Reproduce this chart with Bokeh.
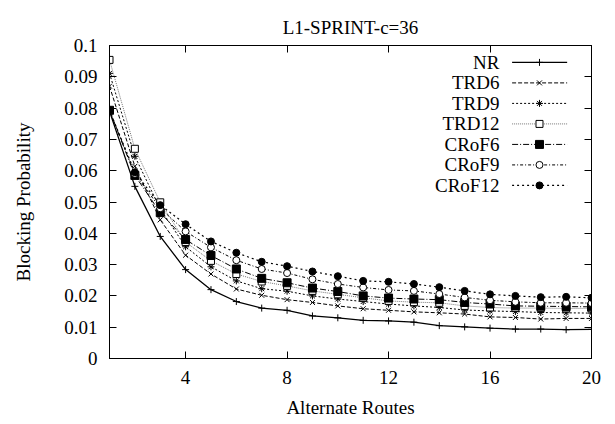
from bokeh.plotting import figure
from bokeh.models import LinearAxis, FixedTicker, Range1d, CustomJSTickFormatter
from bokeh.core.properties import value
from bokeh.embed import file_html
from bokeh.resources import INLINE

# ---- data ----
routes = list(range(1, 21))
NR = [0.0790, 0.0550, 0.0390, 0.0284, 0.0220, 0.0182, 0.0161, 0.0154, 0.0136, 0.0130,
      0.0122, 0.0120, 0.0116, 0.0105, 0.0101, 0.0097, 0.0094, 0.0094, 0.0092, 0.0093]
TRD6 = [0.0870, 0.0614, 0.0443, 0.0330, 0.0270, 0.0222, 0.0202, 0.0188, 0.0179, 0.0168,
        0.0159, 0.0154, 0.0149, 0.0146, 0.0142, 0.0133, 0.0131, 0.0126, 0.0128, 0.0128]
TRD9 = [0.0911, 0.0646, 0.0478, 0.0357, 0.0293, 0.0248, 0.0223, 0.0215, 0.0200, 0.0190,
        0.0182, 0.0174, 0.0168, 0.0163, 0.0155, 0.0152, 0.0150, 0.0147, 0.0146, 0.0145]
TRD12 = [0.0954, 0.0670, 0.0499, 0.0372, 0.0312, 0.0270, 0.0246, 0.0232, 0.0216, 0.0205,
         0.0194, 0.0184, 0.0180, 0.0178, 0.0168, 0.0163, 0.0161, 0.0161, 0.0160, 0.0160]
CRoF6 = [0.0793, 0.0585, 0.0466, 0.0380, 0.0329, 0.0286, 0.0256, 0.0242, 0.0225, 0.0214,
         0.0200, 0.0193, 0.0190, 0.0188, 0.0179, 0.0174, 0.0168, 0.0167, 0.0166, 0.0165]
CRoF9 = [0.0793, 0.0590, 0.0480, 0.0406, 0.0355, 0.0314, 0.0286, 0.0273, 0.0253, 0.0238,
         0.0227, 0.0219, 0.0216, 0.0206, 0.0195, 0.0186, 0.0181, 0.0178, 0.0178, 0.0177]
CRoF12 = [0.0793, 0.0595, 0.0490, 0.0429, 0.0374, 0.0338, 0.0309, 0.0295, 0.0278, 0.0263,
          0.0248, 0.0245, 0.0238, 0.0228, 0.0216, 0.0205, 0.0200, 0.0196, 0.0197, 0.0194]

series_names = ["NR", "TRD6", "TRD9", "TRD12", "CRoF6", "CRoF9", "CRoF12"]
series_vals = [NR, TRD6, TRD9, TRD12, CRoF6, CRoF9, CRoF12]
x_ticks = [4, 8, 12, 16, 20]
y_ticks = [0.0, 0.01, 0.02, 0.03, 0.04, 0.05, 0.06, 0.07, 0.08, 0.09, 0.1]
y_tick_labels = ["0", "0.01", "0.02", "0.03", "0.04", "0.05", "0.06", "0.07", "0.08", "0.09", "0.1"]
title_text = "L1-SPRINT-c=36"

# ---- styles ----
styles = {
    "NR":     dict(dash="solid",   lc="black",   lw=1.3, marker="cross",    fill=None,    size=7),
    "TRD6":   dict(dash="4 2",     lc="black",   lw=1.0, marker="x",        fill=None,    size=7),
    "TRD9":   dict(dash="2 2",     lc="black",   lw=1.0, marker="asterisk", fill=None,    size=7),
    "TRD12":  dict(dash="1 1",     lc="#777777", lw=1.0, marker="square",   fill="white", size=7),
    "CRoF6":  dict(dash="6 2 1 2", lc="black",   lw=1.0, marker="square",   fill="black", size=8),
    "CRoF9":  dict(dash="3 2 1 2", lc="black",   lw=1.0, marker="circle",   fill="white", size=7),
    "CRoF12": dict(dash="2 3",     lc="black",   lw=1.2, marker="circle",   fill="black", size=7),
}

FONT = "Liberation Serif"

p = figure(width=615, height=424, output_backend="svg", toolbar_location=None,
           x_range=Range1d(1, 20), y_range=Range1d(0, 0.1),
           min_border_left=109, min_border_right=24, min_border_top=45, min_border_bottom=66)
p.background_fill_color = "white"
p.border_fill_color = "white"
p.outline_line_color = "black"
p.outline_line_width = 1
p.grid.visible = False

p.title.text = title_text
p.title.align = "center"
p.title.text_font = FONT
p.title.text_font_style = "normal"
p.title.text_font_size = "19px"
p.title.text_color = "black"
p.title.standoff = 16

for ax in p.xaxis + p.yaxis:
    ax.major_tick_in = 7
    ax.major_tick_out = 0
    ax.minor_tick_in = 0
    ax.minor_tick_out = 0
    ax.major_label_text_font = FONT
    ax.major_label_text_font_size = "19px"
    ax.major_label_text_color = "black"
    ax.axis_label_text_font = FONT
    ax.axis_label_text_font_size = "19px"
    ax.axis_label_text_font_style = "normal"
    ax.axis_label_text_color = "black"
    ax.axis_line_color = "black"
    ax.major_tick_line_color = "black"

p.xaxis.ticker = FixedTicker(ticks=x_ticks)
p.yaxis.ticker = FixedTicker(ticks=y_ticks)
p.yaxis.major_label_overrides = {t: l for t, l in zip(y_ticks, y_tick_labels)}
p.xaxis.axis_label = "Alternate Routes"
p.yaxis.axis_label = "Blocking Probability"
p.xaxis.major_label_standoff = 12
p.yaxis.major_label_standoff = 12
p.xaxis.axis_label_standoff = 10
p.yaxis.axis_label_standoff = 27

# mirrored axes (ticks only)
blank = CustomJSTickFormatter(code="return '';")
top = LinearAxis(ticker=FixedTicker(ticks=x_ticks), major_tick_in=7, major_tick_out=0,
                 minor_tick_in=0, minor_tick_out=0, formatter=blank,
                 major_label_standoff=0)
right = LinearAxis(ticker=FixedTicker(ticks=y_ticks), major_tick_in=7, major_tick_out=0,
                   minor_tick_in=0, minor_tick_out=0, formatter=blank,
                   major_label_standoff=0)
p.add_layout(top, "above")
p.add_layout(right, "right")

# ---- series ----
for name, vals in zip(series_names, series_vals):
    s = styles[name]
    p.line(routes, vals, line_color=s["lc"], line_width=s["lw"], line_dash=s["dash"])
    p.scatter(routes, vals, marker=s["marker"], size=s["size"], line_color="black",
              fill_color=s["fill"], line_width=1)

# ---- custom legend (text left, sample right, like gnuplot) ----
leg_text_x = 16.37
leg_x0, leg_x1, leg_xm = 16.87, 19.04, 17.95
leg_y0, leg_dy = 0.0946, 0.00655
for i, name in enumerate(series_names):
    s = styles[name]
    yy = leg_y0 - i * leg_dy
    p.text([leg_text_x], [yy], text=[name], text_align="right", text_baseline="middle",
           text_font=value(FONT), text_font_size="19px", text_color="black")
    p.line([leg_x0, leg_x1], [yy, yy], line_color=s["lc"], line_width=s["lw"], line_dash=s["dash"])
    p.scatter([leg_xm], [yy], marker=s["marker"], size=s["size"], line_color="black",
              fill_color=s["fill"], line_width=1)

open("out.html", "w").write(file_html(p, INLINE))
